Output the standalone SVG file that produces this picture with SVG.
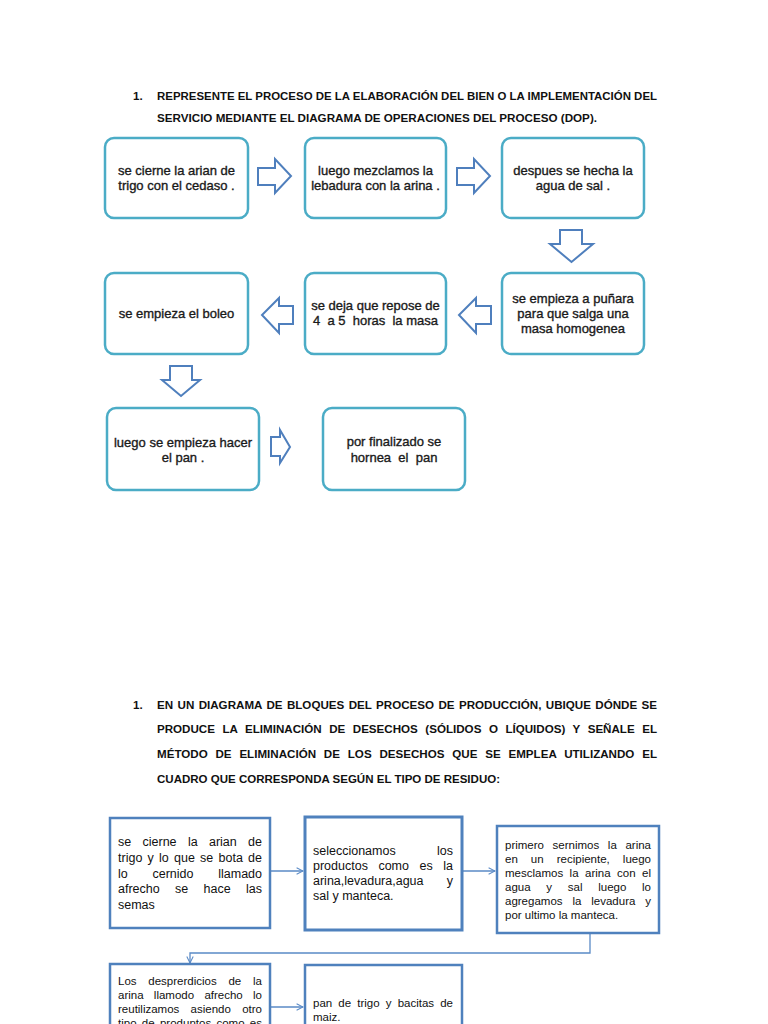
<svg xmlns="http://www.w3.org/2000/svg" width="768" height="1024" viewBox="0 0 768 1024">
<style>
.hd{font-family:"Liberation Sans",Arial,sans-serif;font-weight:bold;font-size:11.6px;fill:#111}
.rb{fill:#fff;stroke:#4bacc6;stroke-width:2.5}
.rt{font-family:"Liberation Sans",Arial,sans-serif;font-size:13px;fill:#1a1a1a;stroke:#1a1a1a;stroke-width:0.35;text-anchor:middle}
.ba{fill:#fff;stroke:#4f7fbd;stroke-width:2}
.sb{fill:#fff;stroke:#4f81bd;stroke-width:2.5}
.bt{font-family:"Liberation Sans",Arial,sans-serif;font-size:12.5px;fill:#111}
.st{font-family:"Liberation Sans",Arial,sans-serif;font-size:11.5px;fill:#111}
.cn{fill:none;stroke:#5a8ac6;stroke-width:1.3}
</style>
<defs>
<marker id="oa" viewBox="0 0 10 10" refX="9" refY="5" markerWidth="8" markerHeight="8" markerUnits="userSpaceOnUse" orient="auto">
<path d="M1,1 L9,5 L1,9" fill="none" stroke="#5a8ac6" stroke-width="1.3"/>
</marker>
</defs>
<rect width="768" height="1024" fill="#fff"/>

<g id="header1">
<text class="hd" x="133" y="100">1.</text>
<text class="hd" x="157" y="100" textLength="500" lengthAdjust="spacingAndGlyphs">REPRESENTE EL PROCESO DE LA ELABORACIÓN DEL BIEN O LA IMPLEMENTACIÓN DEL</text>
<text class="hd" x="157" y="122" textLength="440" lengthAdjust="spacingAndGlyphs">SERVICIO MEDIANTE EL DIAGRAMA DE OPERACIONES DEL PROCESO (DOP).</text>
</g>

<g id="connectors-top">
<path class="ba" d="M258,168 H275 V159 L291,176 L275,193 V185 H258 Z"/>
<path class="ba" d="M457,168 H474 V159 L490,176 L474,193 V185 H457 Z"/>
<path class="ba" d="M560,230 H582 V244 H593 L571.5,262 L550,244 H560 Z"/>
<path class="ba" d="M491,306 H476 V298 L459,315 L476,333 V324 H491 Z"/>
<path class="ba" d="M293,306 H279 V298 L262,315 L279,333 V324 H293 Z"/>
<path class="ba" d="M170,366 H192 V380 H200 L181,396 L162,380 H170 Z"/>
<path class="ba" d="M271,437 H280 V430 L290,447 L280,463 V456 H271 Z"/>
</g>

<g id="n1">
<rect class="rb" x="105" y="138" width="143" height="80" rx="9"/>
<text class="rt" x="176.5" y="175">se cierne la arian de</text>
<text class="rt" x="176.5" y="190">trigo con el cedaso .</text>
</g>
<g id="n2">
<rect class="rb" x="305" y="138" width="141" height="80" rx="9"/>
<text class="rt" x="375.5" y="175">luego mezclamos la</text>
<text class="rt" x="375.5" y="190">lebadura con la arina .</text>
</g>
<g id="n3">
<rect class="rb" x="502" y="138" width="142" height="80" rx="9"/>
<text class="rt" x="573" y="175">despues se hecha la</text>
<text class="rt" x="573" y="190">agua de sal .</text>
</g>
<g id="n4">
<rect class="rb" x="502" y="273" width="142" height="81" rx="9"/>
<text class="rt" x="573" y="303">se empieza a puñara</text>
<text class="rt" x="573" y="318">para que salga una</text>
<text class="rt" x="573" y="333">masa homogenea</text>
</g>
<g id="n5">
<rect class="rb" x="305" y="273" width="141" height="81" rx="9"/>
<text class="rt" x="375.5" y="310">se deja que repose de</text>
<text class="rt" x="375.5" y="325" xml:space="preserve">4  a 5  horas  la masa</text>
</g>
<g id="n6">
<rect class="rb" x="105" y="273" width="143" height="81" rx="9"/>
<text class="rt" x="176.5" y="318">se empieza el boleo</text>
</g>
<g id="n7">
<rect class="rb" x="107" y="408" width="152" height="82" rx="9"/>
<text class="rt" x="183" y="447">luego se empieza hacer</text>
<text class="rt" x="183" y="462">el pan .</text>
</g>
<g id="n8">
<rect class="rb" x="323" y="408" width="142" height="82" rx="9"/>
<text class="rt" x="394" y="446">por finalizado se</text>
<text class="rt" x="394" y="462" xml:space="preserve">hornea  el  pan</text>
</g>

<g id="header2">
<text class="hd" x="133" y="709">1.</text>
<text class="hd" x="157" y="709" word-spacing="1.2" textLength="500" lengthAdjust="spacing">EN UN DIAGRAMA DE BLOQUES DEL PROCESO DE PRODUCCIÓN, UBIQUE DÓNDE SE</text>
<text class="hd" x="157" y="733" word-spacing="4.3" textLength="500" lengthAdjust="spacing">PRODUCE LA ELIMINACIÓN DE DESECHOS (SÓLIDOS O LÍQUIDOS) Y SEÑALE EL</text>
<text class="hd" x="157" y="758" word-spacing="4.6" textLength="500" lengthAdjust="spacing">MÉTODO DE ELIMINACIÓN DE LOS DESECHOS QUE SE EMPLEA UTILIZANDO EL</text>
<text class="hd" x="157" y="783" textLength="343" lengthAdjust="spacingAndGlyphs">CUADRO QUE CORRESPONDA SEGÚN EL TIPO DE RESIDUO:</text>
</g>

<g id="connectors-bottom">
<path class="cn" d="M270,871 H303" marker-end="url(#oa)"/>
<path class="cn" d="M462,871 H495" marker-end="url(#oa)"/>
<path class="cn" d="M590,933 V953 H190 V963" marker-end="url(#oa)"/>
<path class="cn" d="M270,1007 H303" marker-end="url(#oa)"/>
</g>

<g id="bA">
<rect class="sb" x="110" y="818" width="160" height="110"/>
<text class="bt" x="118" y="846" word-spacing="7.86" textLength="144" lengthAdjust="spacing">se cierne la arian de</text>
<text class="bt" x="118" y="862" word-spacing="1.76" textLength="144" lengthAdjust="spacing">trigo y lo que se bota de</text>
<text class="bt" x="118" y="878" word-spacing="21.3" textLength="144" lengthAdjust="spacing">lo cernido llamado</text>
<text class="bt" x="118" y="893" word-spacing="11.87" textLength="144" lengthAdjust="spacing">afrecho se hace las</text>
<text class="bt" x="118" y="909">semas</text>
</g>
<g id="bB">
<rect class="sb" x="305" y="817" width="157" height="113" style="stroke-width:3"/>
<text class="bt" x="313" y="855" word-spacing="37.9" textLength="140" lengthAdjust="spacing">seleccionamos los</text>
<text class="bt" x="313" y="870" word-spacing="7.06" textLength="140" lengthAdjust="spacing">productos como es la</text>
<text class="bt" x="313" y="885" word-spacing="19.8" textLength="140" lengthAdjust="spacing">arina,levadura,agua y</text>
<text class="bt" x="313" y="900">sal y manteca.</text>
</g>
<g id="bC">
<rect class="sb" x="497" y="826" width="162" height="107"/>
<text class="st" x="505" y="849" word-spacing="5.43" textLength="146" lengthAdjust="spacing">primero sernimos la arina</text>
<text class="st" x="505" y="863" word-spacing="9.88" textLength="146" lengthAdjust="spacing">en un recipiente, luego</text>
<text class="st" x="505" y="877" word-spacing="3.28" textLength="146" lengthAdjust="spacing">mesclamos la arina con el</text>
<text class="st" x="505" y="891" word-spacing="12.53" textLength="146" lengthAdjust="spacing">agua y sal luego lo</text>
<text class="st" x="505" y="905" word-spacing="6.7" textLength="146" lengthAdjust="spacing">agregamos la levadura y</text>
<text class="st" x="505" y="919">por ultimo la manteca.</text>
</g>
<g id="bD">
<rect class="sb" x="110" y="964" width="160" height="80"/>
<text class="st" x="118" y="985" word-spacing="8.59" textLength="144" lengthAdjust="spacing">Los desprerdicios de la</text>
<text class="st" x="118" y="999" word-spacing="7.1" textLength="144" lengthAdjust="spacing">arina llamodo afrecho lo</text>
<text class="st" x="118" y="1013" word-spacing="8.1" textLength="144" lengthAdjust="spacing">reutilizamos asiendo otro</text>
<text class="st" x="118" y="1027" word-spacing="2.1" textLength="144" lengthAdjust="spacing">tipo de produntos como es</text>
</g>
<g id="bE">
<rect class="sb" x="305" y="965" width="157" height="80"/>
<text class="st" x="313" y="1007" word-spacing="2.94" textLength="140" lengthAdjust="spacing">pan de trigo y bacitas de</text>
<text class="st" x="313" y="1021">maiz.</text>
</g>
</svg>
